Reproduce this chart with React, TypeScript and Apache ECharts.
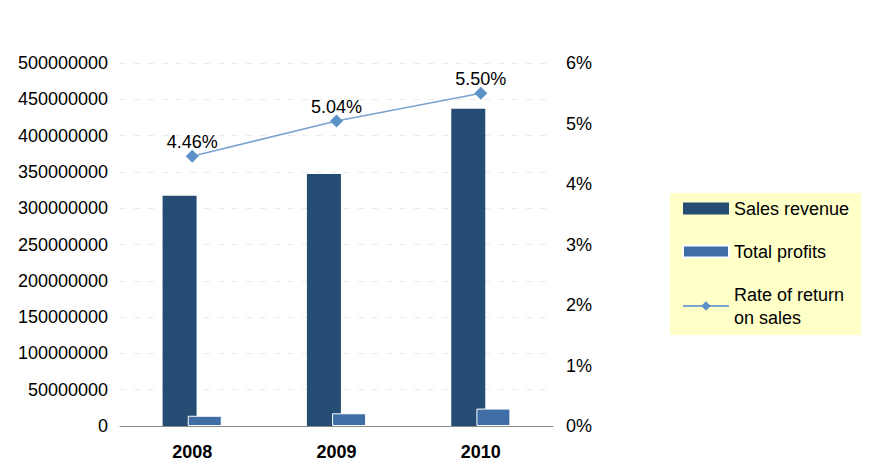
import React, { useEffect, useRef } from "react";
import * as echarts from "echarts";

const categories = ["2008", "2009", "2010"];
const salesRevenue = [317000000, 347000000, 437000000];
const totalProfits = [14100000, 17500000, 24000000];
const rateOfReturn = [4.46, 5.04, 5.5];

export default function App() {
  const ref = useRef<HTMLDivElement>(null);
  useEffect(() => {
    if (!ref.current) return;
    const chart = echarts.init(ref.current, null, { renderer: "svg" });
    const font = "Liberation Sans, Arial, sans-serif";
    chart.setOption({
      animation: false,
      backgroundColor: "#ffffff",
      textStyle: { fontFamily: font },
      grid: { left: 120, right: 316, top: 63, bottom: 48 },
      legend: {
        orient: "vertical",
        left: 670,
        top: 193,
        backgroundColor: "#FFFFC8",
        padding: [4, 12, 6, 12],
        itemGap: 20,
        itemWidth: 46,
        itemHeight: 12,
        textStyle: { fontSize: 18, color: "#000", fontFamily: font, lineHeight: 23 },
        data: [
          { name: "Sales revenue", icon: "rect" },
          { name: "Total profits", icon: "rect" },
          { name: "Rate of return\non sales" },
        ],
      },
      xAxis: {
        type: "category",
        data: categories,
        axisLine: { lineStyle: { color: "#888888", width: 1 } },
        axisTick: { show: false },
        axisLabel: { fontSize: 18, fontWeight: "bold", color: "#000", margin: 17, fontFamily: font },
      },
      yAxis: [
        {
          type: "value",
          min: 0,
          max: 500000000,
          interval: 50000000,
          axisLine: { show: false },
          axisTick: { show: false },
          axisLabel: { fontSize: 18, color: "#000", margin: 12, fontFamily: font, formatter: (v: number) => String(v) },
          splitLine: { lineStyle: { color: "#ececec", type: [6, 8], width: 1 } },
        },
        {
          type: "value",
          min: 0,
          max: 6,
          interval: 1,
          position: "right",
          axisLine: { show: false },
          axisTick: { show: false },
          axisLabel: { fontSize: 18, color: "#000", margin: 13, fontFamily: font, formatter: "{value}%" },
          splitLine: { show: false },
        },
      ],
      series: [
        {
          name: "Sales revenue",
          type: "bar",
          data: salesRevenue,
          barWidth: 34,
          barGap: "-26%",
          itemStyle: { color: "#254D74" },
        },
        {
          name: "Total profits",
          type: "bar",
          data: totalProfits,
          barWidth: 34,
          itemStyle: { color: "#3F6EA6", borderColor: "#ffffff", borderWidth: 1 },
        },
        {
          name: "Rate of return\non sales",
          type: "line",
          yAxisIndex: 1,
          data: rateOfReturn,
          symbol: "diamond",
          symbolSize: 13,
          lineStyle: { color: "#7BA3CF", width: 1.6 },
          itemStyle: { color: "#5D92C9" },
          label: {
            show: true,
            position: "top",
            distance: -1,
            fontSize: 18,
            color: "#000",
            fontFamily: font,
            formatter: (p: any) => p.value.toFixed(2) + "%",
          },
        },
      ],
    });
    return () => chart.dispose();
  }, []);
  return (
    <div
      ref={ref}
      style={{ position: "fixed", left: 0, top: 0, width: 869, height: 474 }}
    />
  );
}
